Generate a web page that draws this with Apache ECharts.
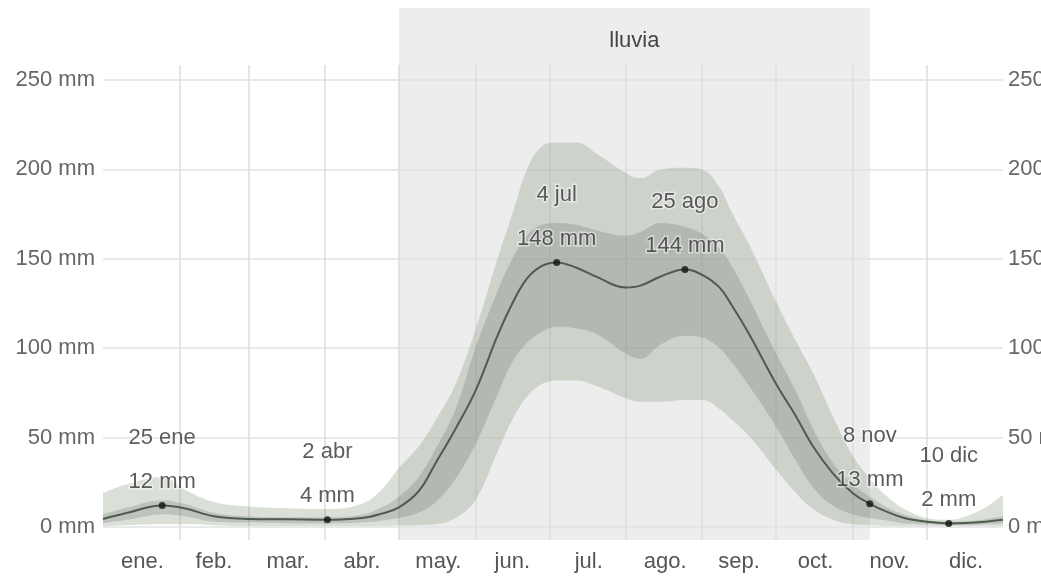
<!DOCTYPE html>
<html>
<head>
<meta charset="utf-8">
<script src="https://cdn.jsdelivr.net/npm/echarts@6/dist/echarts.min.js"></script>
<style>html,body{margin:0;padding:0;background:#fff}#c{width:1041px;height:581px}</style>
</head>
<body>
<div id="c"></div>
<script>
// ---- data (day of year, 0 = 1 ene) ----
const days   = [0, 10, 24, 33, 45, 59, 75, 91, 105, 113, 120, 128, 135, 143, 151, 160, 166, 172, 178, 184, 192, 200, 212, 218, 226, 236, 243, 250, 255, 262, 273, 281, 288, 296, 304, 311, 318, 325, 334, 343, 350, 358, 365];
const median = [4.5, 8, 12, 10.5, 6, 4.5, 4.3, 4, 5, 7.5, 11, 20, 36, 55, 76, 107, 125, 139, 146, 148, 145, 140, 134, 135, 140, 144, 141, 134, 124, 108, 80, 62, 45, 30, 19, 13, 8.5, 5, 3, 2, 2.2, 3, 4];
const p90    = [19, 24, 28, 21, 14, 11.5, 10.5, 10, 13, 21, 33, 45, 60, 80, 110, 150, 175, 200, 213, 215, 215, 209, 198, 195, 200, 201, 200, 190, 176, 158, 126, 104, 86, 62, 40, 27, 17, 10, 5, 4, 6, 11, 18];
const p75    = [7, 11, 15, 13, 8, 6, 5.5, 5.5, 7, 11, 17, 28, 44, 66, 100, 132, 150, 163, 169, 170, 169, 166, 163, 165, 170, 168, 164, 156, 146, 128, 97, 76, 55, 36, 24, 17, 11, 7, 4, 3, 3.2, 4.5, 6];
const p25    = [2, 4, 7, 6, 3, 2.5, 2, 2, 2.5, 3.5, 5, 8, 14, 27, 46, 74, 92, 103, 109, 112, 111, 108, 97, 94, 102, 107, 106, 100, 92, 79, 56, 37, 22, 12, 7, 5, 3.5, 2, 1.5, 1, 1, 1.5, 2];
const p10    = [0.5, 1, 1.5, 1.5, 1, 0.5, 0.5, 0.5, 0.5, 0.5, 0.8, 1, 1.5, 5, 15, 42, 60, 73, 80, 82, 82, 79, 72, 70, 70, 71, 71, 66, 60, 51, 32, 19, 10, 4, 1.5, 1, 0.5, 0.5, 0.5, 0.5, 0.5, 0.5, 0.5];

const annDays   = [24, 91, 184, 236, 311, 343];
const annValues = [12, 4, 148, 144, 13, 2];
const annLabels = ['25 ene', '2 abr', '4 jul', '25 ago', '8 nov', '10 dic'];

const monthStarts = [0, 31, 59, 90, 120, 151, 181, 212, 243, 273, 304, 334, 365];
const monthNames  = ['ene.', 'feb.', 'mar.', 'abr.', 'may.', 'jun.', 'jul.', 'ago.', 'sep.', 'oct.', 'nov.', 'dic.'];
const yTicks      = [0, 50, 100, 150, 200, 250];
const rainySeason = [120, 311];
const seasonLabel = 'lluvia';

// ---- font ----
const FONT = '"Liberation Sans", Arial, sans-serif';
const FS = 22;

// ---- derived ----
const monthMid = monthNames.map((_, i) => Math.round((monthStarts[i] + monthStarts[i + 1]) / 2));
const dayCats = Array.from({length: 366}, (_, d) => { const i = monthMid.indexOf(d); return i >= 0 ? monthNames[i] : ''; });
const splitDays = monthStarts.slice(1, 12);
const pts = arr => days.map((d, i) => [d, arr[i]]);
const diff = (a, b) => days.map((d, i) => [d, +(a[i] - b[i]).toFixed(2)]);

const OUTER = 'rgba(118,142,112,0.27)';
const INNER = 'rgba(92,106,90,0.40)';
const SMOOTH = 0.4;

const chart = echarts.init(document.getElementById('c'), null, {renderer: 'canvas'});
const bandSeries = (name, data, color) => ({
  name, type: 'line', data, stack: 'band', smooth: SMOOTH, symbol: 'none',
  xAxisIndex: 0, yAxisIndex: 0,
  lineStyle: {width: 0, opacity: 0},
  areaStyle: color ? {color, opacity: 1} : {opacity: 0},
  silent: true, z: 2
});

chart.setOption({
  animation: false,
  backgroundColor: '#fff',
  textStyle: {fontFamily: FONT},
  grid: [
    {left: 103, right: 38, top: 65, bottom: 41, containLabel: false, outerBoundsMode: 'none'},
    {left: 103, right: 38, top: 8, bottom: 41, containLabel: false, outerBoundsMode: 'none'}
  ],
  xAxis: [
    {
      type: 'category', data: dayCats, boundaryGap: false, gridIndex: 0, z: 1,
      axisLine: {show: false},
      axisTick: {show: false},
      splitLine: {show: true, interval: (idx) => splitDays.includes(idx), lineStyle: {color: '#dcdcdc', width: 1.5}},
      axisLabel: {
        interval: (idx, val) => val !== '',
        color: '#555', fontSize: FS, fontFamily: FONT, margin: 11
      }
    },
    {type: 'value', min: 0, max: 365, gridIndex: 1, show: false}
  ],
  yAxis: [
    {
      type: 'value', min: -7.27, max: 258.4, gridIndex: 0, position: 'left', z: 1,
      axisLine: {show: false},
      axisTick: {show: false, customValues: yTicks},
      splitLine: {show: true, lineStyle: {color: '#e2e2e2', width: 1.5}},
      axisLabel: {customValues: yTicks, formatter: v => v + ' mm', color: '#666', fontSize: FS, fontFamily: FONT, margin: 8}
    },
    {
      type: 'value', min: -7.27, max: 258.4, gridIndex: 0, position: 'right', z: 1,
      axisLine: {show: false},
      axisTick: {show: false, customValues: yTicks},
      splitLine: {show: false},
      axisLabel: {customValues: yTicks, formatter: v => v + ' mm', color: '#666', fontSize: FS, fontFamily: FONT, margin: 5}
    },
    {type: 'value', min: 0, max: 1, gridIndex: 1, show: false}
  ],
  series: [
    {
      type: 'line', xAxisIndex: 1, yAxisIndex: 2, z: -1, silent: true,
      data: rainySeason.map(d => [d, 0.5]), symbol: 'none', lineStyle: {opacity: 0},
      markArea: {
        silent: true, z: -1,
        itemStyle: {color: '#ededed'},
        label: {show: true, position: 'insideTop', distance: 22, color: '#444', fontSize: FS, fontFamily: FONT},
        data: [[{name: seasonLabel, xAxis: rainySeason[0]}, {xAxis: rainySeason[1]}]]
      }
    },
    bandSeries('p10', pts(p10), null),
    bandSeries('p10-25', diff(p25, p10), OUTER),
    bandSeries('p25-75', diff(p75, p25), INNER),
    bandSeries('p75-90', diff(p90, p75), OUTER),
    {
      name: 'mediana', type: 'line', data: pts(median), smooth: SMOOTH, symbol: 'none',
      lineStyle: {color: '#4e5c4e', width: 2}, z: 3, silent: true
    },
    {
      type: 'scatter', z: 4, silent: true,
      data: annDays.map((d, i) => ({value: [d, annValues[i]], name: annLabels[i]})),
      symbolSize: 7, itemStyle: {color: '#111'},
      label: {
        show: true, position: 'top', distance: -2,
        formatter: p => p.name + '\n' + p.value[1] + ' mm',
        color: '#333', fontSize: FS, fontFamily: FONT, lineHeight: 44,
        textBorderColor: 'rgba(255,255,255,0.6)', textBorderWidth: 3
      }
    }
  ]
});
</script>
</body>
</html>
